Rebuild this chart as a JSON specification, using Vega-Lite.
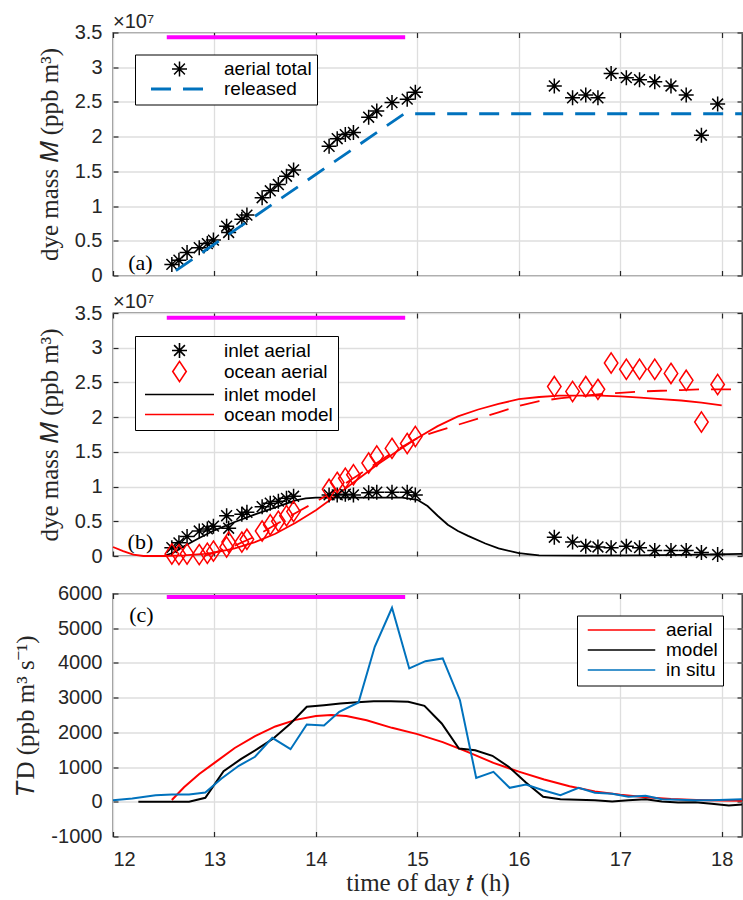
{
  "$schema": "https://vega.github.io/schema/vega-lite/v6.json",
  "background": "white",
  "padding": {"left": 13, "top": 10.5, "right": 0, "bottom": 0},
  "spacing": 37.5,
  "bounds": "flush",
  "resolve": {
    "scale": {"color": "independent", "shape": "independent", "strokeWidth": "independent", "strokeDash": "independent"},
    "legend": {"color": "independent", "shape": "independent", "strokeWidth": "independent", "strokeDash": "independent"}
  },
  "datasets": {
    "release": [{"t0": 12.53, "t1": 14.88}],
    "aTotal": [
      {"t": 12.58, "M": 0.16, "s": "aerial total"}, {"t": 12.65, "M": 0.22, "s": "aerial total"}, {"t": 12.73, "M": 0.33, "s": "aerial total"},
      {"t": 12.85, "M": 0.40, "s": "aerial total"}, {"t": 12.93, "M": 0.46, "s": "aerial total"}, {"t": 12.99, "M": 0.51, "s": "aerial total"},
      {"t": 13.12, "M": 0.71, "s": "aerial total"}, {"t": 13.14, "M": 0.62, "s": "aerial total"}, {"t": 13.27, "M": 0.81, "s": "aerial total"},
      {"t": 13.32, "M": 0.87, "s": "aerial total"}, {"t": 13.47, "M": 1.12, "s": "aerial total"}, {"t": 13.55, "M": 1.22, "s": "aerial total"},
      {"t": 13.63, "M": 1.31, "s": "aerial total"}, {"t": 13.71, "M": 1.43, "s": "aerial total"}, {"t": 13.78, "M": 1.52, "s": "aerial total"},
      {"t": 14.13, "M": 1.86, "s": "aerial total"}, {"t": 14.21, "M": 1.97, "s": "aerial total"}, {"t": 14.29, "M": 2.03, "s": "aerial total"},
      {"t": 14.37, "M": 2.06, "s": "aerial total"}, {"t": 14.52, "M": 2.28, "s": "aerial total"}, {"t": 14.60, "M": 2.37, "s": "aerial total"},
      {"t": 14.75, "M": 2.49, "s": "aerial total"}, {"t": 14.90, "M": 2.54, "s": "aerial total"}, {"t": 14.98, "M": 2.64, "s": "aerial total"},
      {"t": 16.35, "M": 2.73, "s": "aerial total"}, {"t": 16.53, "M": 2.56, "s": "aerial total"}, {"t": 16.66, "M": 2.60, "s": "aerial total"},
      {"t": 16.78, "M": 2.56, "s": "aerial total"}, {"t": 16.91, "M": 2.91, "s": "aerial total"}, {"t": 17.06, "M": 2.85, "s": "aerial total"},
      {"t": 17.19, "M": 2.82, "s": "aerial total"}, {"t": 17.34, "M": 2.79, "s": "aerial total"}, {"t": 17.50, "M": 2.73, "s": "aerial total"},
      {"t": 17.65, "M": 2.60, "s": "aerial total"}, {"t": 17.80, "M": 2.02, "s": "aerial total"}, {"t": 17.96, "M": 2.47, "s": "aerial total"}
    ],
    "released": [
      {"t": 12.62, "M": 0.07, "s": "released"}, {"t": 14.87, "M": 2.33, "s": "released"}, {"t": 18.2, "M": 2.33, "s": "released"}
    ],
    "bPoints": [
      {"t": 12.58, "M": 0.12, "s": "inlet aerial"}, {"t": 12.65, "M": 0.19, "s": "inlet aerial"}, {"t": 12.73, "M": 0.28, "s": "inlet aerial"},
      {"t": 12.85, "M": 0.36, "s": "inlet aerial"}, {"t": 12.93, "M": 0.39, "s": "inlet aerial"}, {"t": 12.99, "M": 0.43, "s": "inlet aerial"},
      {"t": 13.12, "M": 0.58, "s": "inlet aerial"}, {"t": 13.14, "M": 0.40, "s": "inlet aerial"}, {"t": 13.27, "M": 0.60, "s": "inlet aerial"},
      {"t": 13.32, "M": 0.63, "s": "inlet aerial"}, {"t": 13.47, "M": 0.71, "s": "inlet aerial"}, {"t": 13.55, "M": 0.76, "s": "inlet aerial"},
      {"t": 13.63, "M": 0.79, "s": "inlet aerial"}, {"t": 13.71, "M": 0.83, "s": "inlet aerial"}, {"t": 13.78, "M": 0.86, "s": "inlet aerial"},
      {"t": 14.13, "M": 0.88, "s": "inlet aerial"}, {"t": 14.21, "M": 0.88, "s": "inlet aerial"}, {"t": 14.29, "M": 0.89, "s": "inlet aerial"},
      {"t": 14.37, "M": 0.88, "s": "inlet aerial"}, {"t": 14.52, "M": 0.91, "s": "inlet aerial"}, {"t": 14.60, "M": 0.92, "s": "inlet aerial"},
      {"t": 14.75, "M": 0.92, "s": "inlet aerial"}, {"t": 14.90, "M": 0.92, "s": "inlet aerial"}, {"t": 14.98, "M": 0.88, "s": "inlet aerial"},
      {"t": 16.35, "M": 0.27, "s": "inlet aerial"}, {"t": 16.53, "M": 0.20, "s": "inlet aerial"}, {"t": 16.66, "M": 0.14, "s": "inlet aerial"},
      {"t": 16.78, "M": 0.13, "s": "inlet aerial"}, {"t": 16.91, "M": 0.12, "s": "inlet aerial"}, {"t": 17.06, "M": 0.14, "s": "inlet aerial"},
      {"t": 17.19, "M": 0.12, "s": "inlet aerial"}, {"t": 17.34, "M": 0.08, "s": "inlet aerial"}, {"t": 17.50, "M": 0.08, "s": "inlet aerial"},
      {"t": 17.65, "M": 0.08, "s": "inlet aerial"}, {"t": 17.80, "M": 0.05, "s": "inlet aerial"}, {"t": 17.96, "M": 0.02, "s": "inlet aerial"},
      {"t": 12.58, "M": 0.03, "s": "ocean aerial"}, {"t": 12.65, "M": 0.02, "s": "ocean aerial"}, {"t": 12.73, "M": 0.03, "s": "ocean aerial"},
      {"t": 12.85, "M": 0.02, "s": "ocean aerial"}, {"t": 12.93, "M": 0.04, "s": "ocean aerial"}, {"t": 12.99, "M": 0.07, "s": "ocean aerial"},
      {"t": 13.12, "M": 0.13, "s": "ocean aerial"}, {"t": 13.14, "M": 0.20, "s": "ocean aerial"}, {"t": 13.27, "M": 0.20, "s": "ocean aerial"},
      {"t": 13.32, "M": 0.24, "s": "ocean aerial"}, {"t": 13.47, "M": 0.36, "s": "ocean aerial"}, {"t": 13.55, "M": 0.45, "s": "ocean aerial"},
      {"t": 13.63, "M": 0.50, "s": "ocean aerial"}, {"t": 13.71, "M": 0.58, "s": "ocean aerial"}, {"t": 13.78, "M": 0.64, "s": "ocean aerial"},
      {"t": 14.13, "M": 0.96, "s": "ocean aerial"}, {"t": 14.21, "M": 1.06, "s": "ocean aerial"}, {"t": 14.29, "M": 1.12, "s": "ocean aerial"},
      {"t": 14.37, "M": 1.17, "s": "ocean aerial"}, {"t": 14.52, "M": 1.34, "s": "ocean aerial"}, {"t": 14.60, "M": 1.44, "s": "ocean aerial"},
      {"t": 14.75, "M": 1.55, "s": "ocean aerial"}, {"t": 14.90, "M": 1.62, "s": "ocean aerial"}, {"t": 14.98, "M": 1.72, "s": "ocean aerial"},
      {"t": 16.35, "M": 2.44, "s": "ocean aerial"}, {"t": 16.53, "M": 2.37, "s": "ocean aerial"}, {"t": 16.66, "M": 2.44, "s": "ocean aerial"},
      {"t": 16.78, "M": 2.40, "s": "ocean aerial"}, {"t": 16.91, "M": 2.78, "s": "ocean aerial"}, {"t": 17.06, "M": 2.69, "s": "ocean aerial"},
      {"t": 17.19, "M": 2.69, "s": "ocean aerial"}, {"t": 17.34, "M": 2.69, "s": "ocean aerial"}, {"t": 17.50, "M": 2.63, "s": "ocean aerial"},
      {"t": 17.65, "M": 2.53, "s": "ocean aerial"}, {"t": 17.80, "M": 1.93, "s": "ocean aerial"}, {"t": 17.96, "M": 2.47, "s": "ocean aerial"}
    ],
    "bModels": [
      {"t": 12.3, "M": 0.0, "s": "inlet model"}, {"t": 12.5, "M": 0.0, "s": "inlet model"}, {"t": 12.6, "M": 0.05, "s": "inlet model"},
      {"t": 12.7, "M": 0.14, "s": "inlet model"}, {"t": 12.85, "M": 0.26, "s": "inlet model"}, {"t": 13.0, "M": 0.37, "s": "inlet model"},
      {"t": 13.2, "M": 0.49, "s": "inlet model"}, {"t": 13.4, "M": 0.60, "s": "inlet model"}, {"t": 13.6, "M": 0.70, "s": "inlet model"},
      {"t": 13.8, "M": 0.80, "s": "inlet model"}, {"t": 13.9, "M": 0.83, "s": "inlet model"}, {"t": 14.0, "M": 0.84, "s": "inlet model"},
      {"t": 14.4, "M": 0.84, "s": "inlet model"}, {"t": 14.85, "M": 0.84, "s": "inlet model"}, {"t": 15.0, "M": 0.81, "s": "inlet model"},
      {"t": 15.1, "M": 0.72, "s": "inlet model"}, {"t": 15.2, "M": 0.58, "s": "inlet model"}, {"t": 15.3, "M": 0.45, "s": "inlet model"},
      {"t": 15.4, "M": 0.36, "s": "inlet model"}, {"t": 15.5, "M": 0.29, "s": "inlet model"}, {"t": 15.67, "M": 0.18, "s": "inlet model"},
      {"t": 15.8, "M": 0.11, "s": "inlet model"}, {"t": 16.0, "M": 0.04, "s": "inlet model"}, {"t": 16.2, "M": 0.01, "s": "inlet model"},
      {"t": 16.6, "M": 0.005, "s": "inlet model"}, {"t": 17.2, "M": 0.01, "s": "inlet model"}, {"t": 17.8, "M": 0.02, "s": "inlet model"},
      {"t": 18.2, "M": 0.03, "s": "inlet model"},
      {"t": 12.0, "M": 0.13, "s": "ocean model"}, {"t": 12.1, "M": 0.07, "s": "ocean model"}, {"t": 12.2, "M": 0.02, "s": "ocean model"},
      {"t": 12.3, "M": 0.0, "s": "ocean model"}, {"t": 12.5, "M": 0.0, "s": "ocean model"}, {"t": 12.7, "M": 0.01, "s": "ocean model"},
      {"t": 12.9, "M": 0.03, "s": "ocean model"}, {"t": 13.0, "M": 0.05, "s": "ocean model"}, {"t": 13.2, "M": 0.11, "s": "ocean model"},
      {"t": 13.4, "M": 0.20, "s": "ocean model"}, {"t": 13.6, "M": 0.32, "s": "ocean model"}, {"t": 13.8, "M": 0.48, "s": "ocean model"},
      {"t": 14.0, "M": 0.66, "s": "ocean model"}, {"t": 14.2, "M": 0.87, "s": "ocean model"}, {"t": 14.4, "M": 1.09, "s": "ocean model"},
      {"t": 14.6, "M": 1.31, "s": "ocean model"}, {"t": 14.8, "M": 1.51, "s": "ocean model"}, {"t": 15.0, "M": 1.70, "s": "ocean model"},
      {"t": 15.2, "M": 1.87, "s": "ocean model"}, {"t": 15.4, "M": 2.01, "s": "ocean model"}, {"t": 15.6, "M": 2.11, "s": "ocean model"},
      {"t": 15.8, "M": 2.19, "s": "ocean model"}, {"t": 16.0, "M": 2.26, "s": "ocean model"}, {"t": 16.2, "M": 2.29, "s": "ocean model"},
      {"t": 16.4, "M": 2.31, "s": "ocean model"}, {"t": 16.6, "M": 2.31, "s": "ocean model"}, {"t": 16.8, "M": 2.31, "s": "ocean model"},
      {"t": 17.0, "M": 2.30, "s": "ocean model"}, {"t": 17.2, "M": 2.28, "s": "ocean model"}, {"t": 17.4, "M": 2.26, "s": "ocean model"},
      {"t": 17.6, "M": 2.24, "s": "ocean model"}, {"t": 17.8, "M": 2.21, "s": "ocean model"}, {"t": 18.0, "M": 2.17, "s": "ocean model"}
    ],
    "bDash": [
      {"t": 12.9, "M": 0.0}, {"t": 13.0, "M": 0.05}, {"t": 13.2, "M": 0.15}, {"t": 13.4, "M": 0.28}, {"t": 13.6, "M": 0.45},
      {"t": 13.8, "M": 0.62}, {"t": 14.0, "M": 0.78}, {"t": 14.2, "M": 0.96}, {"t": 14.4, "M": 1.15}, {"t": 14.6, "M": 1.34},
      {"t": 14.8, "M": 1.53}, {"t": 15.0, "M": 1.70}, {"t": 15.2, "M": 1.80}, {"t": 15.4, "M": 1.89}, {"t": 15.6, "M": 1.98},
      {"t": 15.8, "M": 2.07}, {"t": 16.0, "M": 2.16}, {"t": 16.2, "M": 2.23}, {"t": 16.4, "M": 2.27}, {"t": 16.6, "M": 2.30},
      {"t": 16.8, "M": 2.33}, {"t": 17.0, "M": 2.35}, {"t": 17.2, "M": 2.37}, {"t": 17.4, "M": 2.38}, {"t": 17.6, "M": 2.39},
      {"t": 17.8, "M": 2.40}, {"t": 18.0, "M": 2.40}, {"t": 18.2, "M": 2.40}
    ],
    "cLines": [
      {"t": 12.58, "T": 50, "s": "aerial"}, {"t": 12.7, "T": 420, "s": "aerial"}, {"t": 12.85, "T": 800, "s": "aerial"},
      {"t": 13.0, "T": 1120, "s": "aerial"}, {"t": 13.2, "T": 1550, "s": "aerial"}, {"t": 13.4, "T": 1890, "s": "aerial"},
      {"t": 13.6, "T": 2170, "s": "aerial"}, {"t": 13.8, "T": 2360, "s": "aerial"}, {"t": 14.0, "T": 2470, "s": "aerial"},
      {"t": 14.15, "T": 2500, "s": "aerial"}, {"t": 14.3, "T": 2470, "s": "aerial"}, {"t": 14.5, "T": 2350, "s": "aerial"},
      {"t": 14.75, "T": 2130, "s": "aerial"}, {"t": 15.0, "T": 1950, "s": "aerial"}, {"t": 15.25, "T": 1720, "s": "aerial"},
      {"t": 15.5, "T": 1430, "s": "aerial"}, {"t": 15.75, "T": 1120, "s": "aerial"}, {"t": 16.0, "T": 870, "s": "aerial"},
      {"t": 16.25, "T": 640, "s": "aerial"}, {"t": 16.5, "T": 450, "s": "aerial"}, {"t": 16.75, "T": 300, "s": "aerial"},
      {"t": 17.0, "T": 200, "s": "aerial"}, {"t": 17.25, "T": 130, "s": "aerial"}, {"t": 17.5, "T": 80, "s": "aerial"},
      {"t": 17.75, "T": 50, "s": "aerial"}, {"t": 18.0, "T": 35, "s": "aerial"}, {"t": 18.2, "T": 30, "s": "aerial"},
      {"t": 12.25, "T": 0, "s": "model"}, {"t": 12.75, "T": 0, "s": "model"}, {"t": 12.91, "T": 115, "s": "model"},
      {"t": 13.09, "T": 882, "s": "model"}, {"t": 13.26, "T": 1227, "s": "model"}, {"t": 13.42, "T": 1515, "s": "model"},
      {"t": 13.58, "T": 1823, "s": "model"}, {"t": 13.75, "T": 2255, "s": "model"}, {"t": 13.91, "T": 2736, "s": "model"},
      {"t": 14.08, "T": 2782, "s": "model"}, {"t": 14.24, "T": 2830, "s": "model"}, {"t": 14.41, "T": 2869, "s": "model"},
      {"t": 14.57, "T": 2898, "s": "model"}, {"t": 14.74, "T": 2898, "s": "model"}, {"t": 14.91, "T": 2880, "s": "model"},
      {"t": 15.07, "T": 2765, "s": "model"}, {"t": 15.24, "T": 2255, "s": "model"}, {"t": 15.41, "T": 1535, "s": "model"},
      {"t": 15.57, "T": 1486, "s": "model"}, {"t": 15.74, "T": 1325, "s": "model"}, {"t": 15.90, "T": 1008, "s": "model"},
      {"t": 16.07, "T": 556, "s": "model"}, {"t": 16.24, "T": 144, "s": "model"}, {"t": 16.41, "T": 75, "s": "model"},
      {"t": 16.58, "T": 58, "s": "model"}, {"t": 16.75, "T": 46, "s": "model"}, {"t": 16.92, "T": 10, "s": "model"},
      {"t": 17.08, "T": 46, "s": "model"}, {"t": 17.25, "T": 75, "s": "model"}, {"t": 17.41, "T": 10, "s": "model"},
      {"t": 17.57, "T": -20, "s": "model"}, {"t": 17.74, "T": -15, "s": "model"}, {"t": 17.90, "T": -60, "s": "model"},
      {"t": 18.07, "T": -110, "s": "model"}, {"t": 18.2, "T": -80, "s": "model"},
      {"t": 12.0, "T": 46, "s": "in situ"}, {"t": 12.19, "T": 95, "s": "in situ"}, {"t": 12.42, "T": 190, "s": "in situ"},
      {"t": 12.58, "T": 210, "s": "in situ"}, {"t": 12.75, "T": 210, "s": "in situ"}, {"t": 12.91, "T": 268, "s": "in situ"},
      {"t": 13.07, "T": 671, "s": "in situ"}, {"t": 13.24, "T": 1037, "s": "in situ"}, {"t": 13.40, "T": 1296, "s": "in situ"},
      {"t": 13.57, "T": 1843, "s": "in situ"}, {"t": 13.75, "T": 1515, "s": "in situ"}, {"t": 13.91, "T": 2226, "s": "in situ"},
      {"t": 14.08, "T": 2200, "s": "in situ"}, {"t": 14.23, "T": 2592, "s": "in situ"}, {"t": 14.42, "T": 2860, "s": "in situ"},
      {"t": 14.58, "T": 4464, "s": "in situ"}, {"t": 14.75, "T": 5588, "s": "in situ"}, {"t": 14.92, "T": 3840, "s": "in situ"},
      {"t": 15.08, "T": 4050, "s": "in situ"}, {"t": 15.25, "T": 4128, "s": "in situ"}, {"t": 15.42, "T": 2927, "s": "in situ"},
      {"t": 15.58, "T": 690, "s": "in situ"}, {"t": 15.75, "T": 864, "s": "in situ"}, {"t": 15.91, "T": 403, "s": "in situ"},
      {"t": 16.07, "T": 498, "s": "in situ"}, {"t": 16.24, "T": 334, "s": "in situ"}, {"t": 16.41, "T": 190, "s": "in situ"},
      {"t": 16.59, "T": 403, "s": "in situ"}, {"t": 16.75, "T": 259, "s": "in situ"}, {"t": 16.92, "T": 230, "s": "in situ"},
      {"t": 17.08, "T": 144, "s": "in situ"}, {"t": 17.25, "T": 173, "s": "in situ"}, {"t": 17.41, "T": 75, "s": "in situ"},
      {"t": 17.57, "T": 58, "s": "in situ"}, {"t": 17.74, "T": 46, "s": "in situ"}, {"t": 17.90, "T": 46, "s": "in situ"},
      {"t": 18.2, "T": 75, "s": "in situ"}
    ]
  },
  "vconcat": [
    {
      "width": 629, "height": 243,
      "layer": [
        {
          "data": {"name": "release"},
          "mark": {"type": "rule", "color": "#FF00FF", "strokeWidth": 4},
          "encoding": {
            "x": {"field": "t0", "type": "quantitative", "scale": {"domain": [12, 18.2], "nice": false, "zero": false},
                  "axis": {"orient": "top", "labels": false, "grid": false, "title": null, "values": [12, 13, 14, 15, 16, 17, 18]}},
            "x2": {"field": "t1"},
            "y": {"datum": 3.43, "type": "quantitative", "scale": {"domain": [0, 3.5], "nice": false, "zero": false},
                  "axis": {"orient": "right", "labels": false, "grid": false, "title": null, "values": [0, 0.5, 1, 1.5, 2, 2.5, 3, 3.5]}}
          }
        },
        {
          "data": {"name": "aTotal"},
          "mark": {"type": "point", "filled": false, "size": 225, "opacity": 1},
          "encoding": {
            "x": {"field": "t", "type": "quantitative",
                  "axis": {"orient": "bottom", "labels": false, "title": null, "grid": true, "values": [12, 13, 14, 15, 16, 17, 18]}},
            "y": {"field": "M", "type": "quantitative",
                  "axis": {"orient": "left", "title": "dye mass 𝑀 (ppb m³)", "grid": true, "values": [0, 0.5, 1, 1.5, 2, 2.5, 3, 3.5], "labelExpr": "datum.value + ''"}},
            "color": {"field": "s", "type": "nominal", "scale": {"domain": ["aerial total", "released"], "range": ["#000000", "#0072BD"]},
                      "legend": {"orient": "none", "legendX": 22, "legendY": 22, "title": null, "symbolOffset": 30, "labelOffset": 35, "labelAlign": "left"}},
            "shape": {"field": "s", "type": "nominal", "scale": {"domain": ["aerial total", "released"], "range": ["M0,-1L0,1M-1,0L1,0M-0.72,-0.72L0.72,0.72M-0.72,0.72L0.72,-0.72", "M-3.8,0L3.8,0"]},
                      "legend": {"orient": "none", "legendX": 22, "legendY": 22, "title": null, "symbolOffset": 30, "labelOffset": 35, "labelAlign": "left"}},
            "strokeWidth": {"field": "s", "type": "nominal", "scale": {"domain": ["aerial total", "released"], "range": [1.5, 2.8]},
                      "legend": {"orient": "none", "legendX": 22, "legendY": 22, "title": null, "symbolOffset": 30, "labelOffset": 35, "labelAlign": "left"}}
          }
        },
        {
          "data": {"name": "released"},
          "mark": {"type": "line"},
          "encoding": {
            "x": {"field": "t", "type": "quantitative", "axis": null},
            "y": {"field": "M", "type": "quantitative", "axis": null},
            "color": {"field": "s", "type": "nominal", "scale": {"domain": ["aerial total", "released"], "range": ["#000000", "#0072BD"]},
                      "legend": {"orient": "none", "legendX": 22, "legendY": 22, "title": null, "symbolOffset": 30, "labelOffset": 35, "labelAlign": "left"}},
            "strokeWidth": {"field": "s", "type": "nominal", "scale": {"domain": ["aerial total", "released"], "range": [1.5, 2.8]},
                      "legend": {"orient": "none", "legendX": 22, "legendY": 22, "title": null, "symbolOffset": 30, "labelOffset": 35, "labelAlign": "left"}},
            "strokeDash": {"field": "s", "type": "nominal", "scale": {"domain": ["aerial total", "released"], "range": [[1, 0], [20, 12]]},
                      "legend": {"orient": "none", "legendX": 22, "legendY": 22, "title": null, "symbolOffset": 30, "labelOffset": 35, "labelAlign": "left"}}
          }
        },
        {
          "data": {"values": [{}]},
          "mark": {"type": "text", "text": "×10⁷", "align": "left", "baseline": "alphabetic", "dy": -5, "font": "Liberation Sans", "fontSize": 20, "color": "#262626"},
          "encoding": {"x": {"datum": 12, "type": "quantitative", "axis": null}, "y": {"datum": 3.5, "type": "quantitative", "axis": null}}
        },
        {
          "data": {"values": [{}]},
          "mark": {"type": "text", "text": "(a)", "align": "center", "baseline": "alphabetic", "font": "Liberation Serif", "fontSize": 22, "color": "#000000"},
          "encoding": {"x": {"datum": 12.27, "type": "quantitative", "axis": null}, "y": {"datum": 0.08, "type": "quantitative", "axis": null}}
        }
      ]
    },
    {
      "width": 629, "height": 243,
      "layer": [
        {
          "data": {"name": "release"},
          "mark": {"type": "rule", "color": "#FF00FF", "strokeWidth": 4},
          "encoding": {
            "x": {"field": "t0", "type": "quantitative", "scale": {"domain": [12, 18.2], "nice": false, "zero": false},
                  "axis": {"orient": "top", "labels": false, "grid": false, "title": null, "values": [12, 13, 14, 15, 16, 17, 18]}},
            "x2": {"field": "t1"},
            "y": {"datum": 3.43, "type": "quantitative", "scale": {"domain": [0, 3.5], "nice": false, "zero": false},
                  "axis": {"orient": "right", "labels": false, "grid": false, "title": null, "values": [0, 0.5, 1, 1.5, 2, 2.5, 3, 3.5]}}
          }
        },
        {
          "data": {"name": "bModels"},
          "mark": {"type": "line", "strokeWidth": 1.8},
          "encoding": {
            "x": {"field": "t", "type": "quantitative", "axis": null},
            "y": {"field": "M", "type": "quantitative", "axis": null},
            "color": {"field": "s", "type": "nominal", "scale": {"domain": ["inlet aerial", "ocean aerial", "inlet model", "ocean model"], "range": ["#000000", "#FF0000", "#000000", "#FF0000"]},
                      "legend": {"orient": "none", "legendX": 22, "legendY": 23, "title": null, "symbolOffset": 30, "labelOffset": 35, "labelAlign": "left", "rowPadding": -6}}
          }
        },
        {
          "data": {"name": "bDash"},
          "mark": {"type": "line", "strokeWidth": 1.8, "color": "#FF0000", "strokeDash": [20, 12]},
          "encoding": {
            "x": {"field": "t", "type": "quantitative", "axis": null},
            "y": {"field": "M", "type": "quantitative", "axis": null}
          }
        },
        {
          "data": {"name": "bPoints"},
          "mark": {"type": "point", "filled": false, "size": 225, "opacity": 1, "strokeWidth": 1.5},
          "encoding": {
            "x": {"field": "t", "type": "quantitative",
                  "axis": {"orient": "bottom", "labels": false, "title": null, "grid": true, "values": [12, 13, 14, 15, 16, 17, 18]}},
            "y": {"field": "M", "type": "quantitative",
                  "axis": {"orient": "left", "title": "dye mass 𝑀 (ppb m³)", "grid": true, "values": [0, 0.5, 1, 1.5, 2, 2.5, 3, 3.5], "labelExpr": "datum.value + ''"}},
            "color": {"field": "s", "type": "nominal", "scale": {"domain": ["inlet aerial", "ocean aerial", "inlet model", "ocean model"], "range": ["#000000", "#FF0000", "#000000", "#FF0000"]},
                      "legend": {"orient": "none", "legendX": 22, "legendY": 23, "title": null, "symbolOffset": 30, "labelOffset": 35, "labelAlign": "left", "rowPadding": -6}},
            "shape": {"field": "s", "type": "nominal", "scale": {"domain": ["inlet aerial", "ocean aerial", "inlet model", "ocean model"], "range": ["M0,-1L0,1M-1,0L1,0M-0.72,-0.72L0.72,0.72M-0.72,0.72L0.72,-0.72", "M0,-1.35L0.9,0L0,1.35L-0.9,0Z", "M-4.6,0L4.6,0", "M-4.6,0L4.6,0"]},
                      "legend": {"orient": "none", "legendX": 22, "legendY": 23, "title": null, "symbolOffset": 30, "labelOffset": 35, "labelAlign": "left", "rowPadding": -6}}
          }
        },
        {
          "data": {"values": [{}]},
          "mark": {"type": "text", "text": "×10⁷", "align": "left", "baseline": "alphabetic", "dy": -5, "font": "Liberation Sans", "fontSize": 20, "color": "#262626"},
          "encoding": {"x": {"datum": 12, "type": "quantitative", "axis": null}, "y": {"datum": 3.5, "type": "quantitative", "axis": null}}
        },
        {
          "data": {"values": [{}]},
          "mark": {"type": "text", "text": "(b)", "align": "center", "baseline": "alphabetic", "font": "Liberation Serif", "fontSize": 22, "color": "#000000"},
          "encoding": {"x": {"datum": 12.27, "type": "quantitative", "axis": null}, "y": {"datum": 0.1, "type": "quantitative", "axis": null}}
        }
      ]
    },
    {
      "width": 629, "height": 243,
      "layer": [
        {
          "data": {"name": "release"},
          "mark": {"type": "rule", "color": "#FF00FF", "strokeWidth": 4},
          "encoding": {
            "x": {"field": "t0", "type": "quantitative", "scale": {"domain": [12, 18.2], "nice": false, "zero": false},
                  "axis": {"orient": "top", "labels": false, "grid": false, "title": null, "values": [12, 13, 14, 15, 16, 17, 18]}},
            "x2": {"field": "t1"},
            "y": {"datum": 5900, "type": "quantitative", "scale": {"domain": [-1000, 6000], "nice": false, "zero": false},
                  "axis": {"orient": "right", "labels": false, "grid": false, "title": null, "values": [-1000, 0, 1000, 2000, 3000, 4000, 5000, 6000]}}
          }
        },
        {
          "data": {"name": "cLines"},
          "mark": {"type": "line", "strokeWidth": 2},
          "encoding": {
            "x": {"field": "t", "type": "quantitative",
                  "axis": {"orient": "bottom", "title": "time of day 𝑡 (h)", "grid": true, "values": [12, 13, 14, 15, 16, 17, 18]}},
            "y": {"field": "T", "type": "quantitative",
                  "axis": {"orient": "left", "title": "𝑇D (ppb m³ s⁻¹)", "grid": true, "values": [-1000, 0, 1000, 2000, 3000, 4000, 5000, 6000], "labelExpr": "datum.value + ''"}},
            "color": {"field": "s", "type": "nominal", "scale": {"domain": ["aerial", "model", "in situ"], "range": ["#FF0000", "#000000", "#0072BD"]},
                      "legend": {"orient": "none", "legendX": 464, "legendY": 22, "title": null, "symbolType": "M-4.5,0L4.5,0", "symbolOffset": 30, "labelOffset": 35, "labelAlign": "left"}}
          }
        },
        {
          "data": {"values": [{}]},
          "mark": {"type": "text", "text": "(c)", "align": "center", "baseline": "alphabetic", "font": "Liberation Serif", "fontSize": 22, "color": "#000000"},
          "encoding": {"x": {"datum": 12.28, "type": "quantitative", "axis": null}, "y": {"datum": 5170, "type": "quantitative", "axis": null}}
        }
      ]
    }
  ],
  "config": {
    "view": {"stroke": "#262626", "strokeWidth": 1.3},
    "axis": {
      "labelFont": "Liberation Sans", "labelFontSize": 20, "labelColor": "#262626",
      "titleFont": "Liberation Serif", "titleFontSize": 25, "titleFontWeight": "normal", "titleColor": "#262626",
      "domain": false, "tickColor": "#262626", "tickSize": -5, "tickWidth": 1.2,
      "gridColor": "#dedede", "gridWidth": 1.3, "titlePadding": 12
    },
    "axisX": {"labelPadding": 18, "titlePadding": 1},
    "axisY": {"labelPadding": 16},
    "legend": {
      "labelFont": "Liberation Sans", "labelFontSize": 19, "labelColor": "#000000",
      "strokeColor": "#000000", "fillColor": "#ffffff", "padding": 5, "symbolSize": 225,
      "symbolStrokeWidth": 1.6, "rowPadding": -3, "symbolFillColor": "transparent", "labelAlign": "left"
    }
  }
}
